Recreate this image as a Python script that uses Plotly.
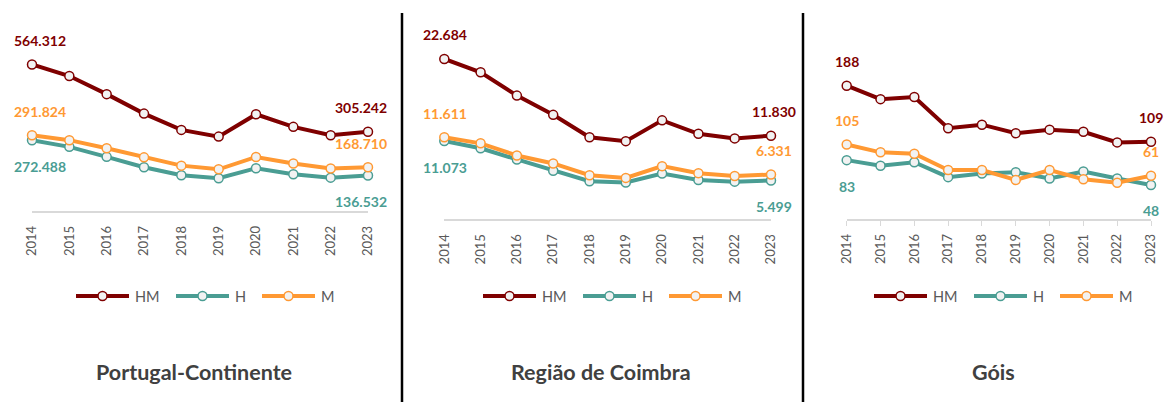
import plotly.graph_objects as go

# Population series, 2014-2023
years = [2014, 2015, 2016, 2017, 2018, 2019, 2020, 2021, 2022, 2023]

pt_hm = [564312, 519700, 449900, 375000, 312300, 286400, 372300, 324000, 291800, 305242]
pt_h = [272488, 247000, 208500, 168500, 137600, 125900, 164400, 141400, 128400, 136532]
pt_m = [291824, 272700, 241400, 206500, 174700, 160500, 207900, 182600, 163400, 168710]

co_hm = [22684, 20800, 17500, 14780, 11610, 11060, 14000, 12100, 11450, 11830]
co_h = [11073, 10050, 8470, 6880, 5380, 5200, 6480, 5570, 5330, 5499]
co_m = [11611, 10750, 9030, 7900, 6230, 5860, 7520, 6530, 6120, 6331]

go_hm = [188, 169, 172, 128, 133, 121, 126, 123, 108, 109]
go_h = [83, 75, 80, 59, 64, 66, 57, 67, 57, 48]
go_m = [105, 94, 92, 69, 69, 55, 69, 56, 51, 61]

panel_titles = ["Portugal-Continente", "Região de Coimbra", "Góis"]
series_names = ["HM", "H", "M"]

W, H = 1165, 402
FONT = "Lato"
COLORS = {"HM": "#7F0000", "H": "#4A9D93", "M": "#FF9933"}
MARKER_FILL = "#F2F2F2"

# pixel geometry of each panel: x of first/last year, y of the zero line, y range max, px per unit
panels = [
    dict(data=(pt_hm, pt_h, pt_m), x0=32, x1=368, y0=211, ymax=600000, scale=3850,
         legend_x=76, title_x=194, ticks=False, lshift=(-20, 21)),
    dict(data=(co_hm, co_h, co_m), x0=444.3, x1=771, y0=219.3, ymax=25000, scale=141.5,
         legend_x=483, title_x=601, ticks=False, lshift=(1, 3)),
    dict(data=(go_hm, go_h, go_m), x0=846.7, x1=1151, y0=219, ymax=200, scale=1.41,
         legend_x=874, title_x=993, ticks=True, lshift=(0, 0)),
]


def fmt(v):
    return f"{v:,}".replace(",", ".")


def px(x):
    return x / W


def py(y):
    return 1 - y / H


fig = go.Figure()
annotations = []
shapes = []

for i, p in enumerate(panels):
    n = "" if i == 0 else str(i + 1)
    xa, ya = "x" + n, "y" + n
    top_px = p["y0"] - p["ymax"] / p["scale"]
    fig.update_layout(**{
        "xaxis" + n: dict(
            domain=[px(p["x0"]), px(p["x1"])], range=[2014, 2023], anchor=ya,
            tickmode="array", tickvals=years, ticktext=[str(y) for y in years],
            tickangle=-90, tickfont=dict(family=FONT, size=13, color="#595959"),
            showline=True, linecolor="#D9D9D9", linewidth=1.5, showgrid=False, zeroline=False,
            ticks="outside", ticklen=5, tickwidth=1,
            tickcolor="#D9D9D9" if p["ticks"] else "rgba(0,0,0,0)",
            ticklabelstandoff=3, automargin=False,
        ),
        "yaxis" + n: dict(
            domain=[py(p["y0"]), py(top_px)], range=[0, p["ymax"]], anchor=xa,
            visible=False, showgrid=False, zeroline=False, automargin=False,
        ),
    })
    for k, (name, vals) in enumerate(zip(series_names, p["data"])):
        col = COLORS[name]
        fig.add_trace(go.Scatter(
            x=years, y=vals, name=name, xaxis=xa, yaxis=ya, showlegend=False,
            mode="lines+markers", cliponaxis=False,
            line=dict(color=col, width=4),
            marker=dict(size=9, color=MARKER_FILL, line=dict(color=col, width=1.5)),
            hoverinfo="skip",
        ))
        # value labels on the first and last year
        above = name != "H"
        for j, side in ((0, 0), (len(years) - 1, 1)):
            shift = p["lshift"][side]
            if i == 0:
                anchor = "left" if side == 0 else "right"
            else:
                anchor = "center"
            annotations.append(dict(
                x=years[j], y=vals[j], xref=xa, yref=ya, text=f"<b>{fmt(vals[j])}</b>",
                showarrow=False, xanchor=anchor, yanchor="middle", xshift=shift,
                yshift=24 if above else -26,
                font=dict(family=FONT, size=14, color=col),
            ))
        # legend entry: line sample with a marker in its middle, then the series name
        lx = p["legend_x"] + (0, 100, 186)[k]
        ly = 296
        shapes.append(dict(type="line", xref="paper", yref="paper",
                           x0=px(lx), x1=px(lx + 53), y0=py(ly), y1=py(ly),
                           line=dict(color=col, width=4)))
        shapes.append(dict(type="circle", xref="paper", yref="paper",
                           x0=px(lx + 26.5 - 4.5), x1=px(lx + 26.5 + 4.5),
                           y0=py(ly + 4.5), y1=py(ly - 4.5),
                           fillcolor=MARKER_FILL, line=dict(color=col, width=1.5)))
        annotations.append(dict(
            x=px(lx + 57), y=py(ly), xref="paper", yref="paper", text=name,
            showarrow=False, xanchor="left", yanchor="middle",
            font=dict(family=FONT, size=14.5, color="#595959"),
        ))
    annotations.append(dict(
        x=px(p["title_x"]), y=py(372), xref="paper", yref="paper",
        text=f"<b>{panel_titles[i]}</b>", showarrow=False, xanchor="center", yanchor="middle",
        font=dict(family=FONT, size=21.5, color="#404040"),
    ))

# separators between the panels
for xp in (402, 803):
    shapes.append(dict(type="line", xref="paper", yref="paper", x0=px(xp), x1=px(xp),
                       y0=0, y1=py(13), line=dict(color="black", width=2.5)))

fig.update_layout(
    width=W, height=H, margin=dict(l=0, r=0, t=0, b=0, autoexpand=False),
    paper_bgcolor="white", plot_bgcolor="white",
    annotations=annotations, shapes=shapes, showlegend=False,
)

fig.write_html("out.html")
